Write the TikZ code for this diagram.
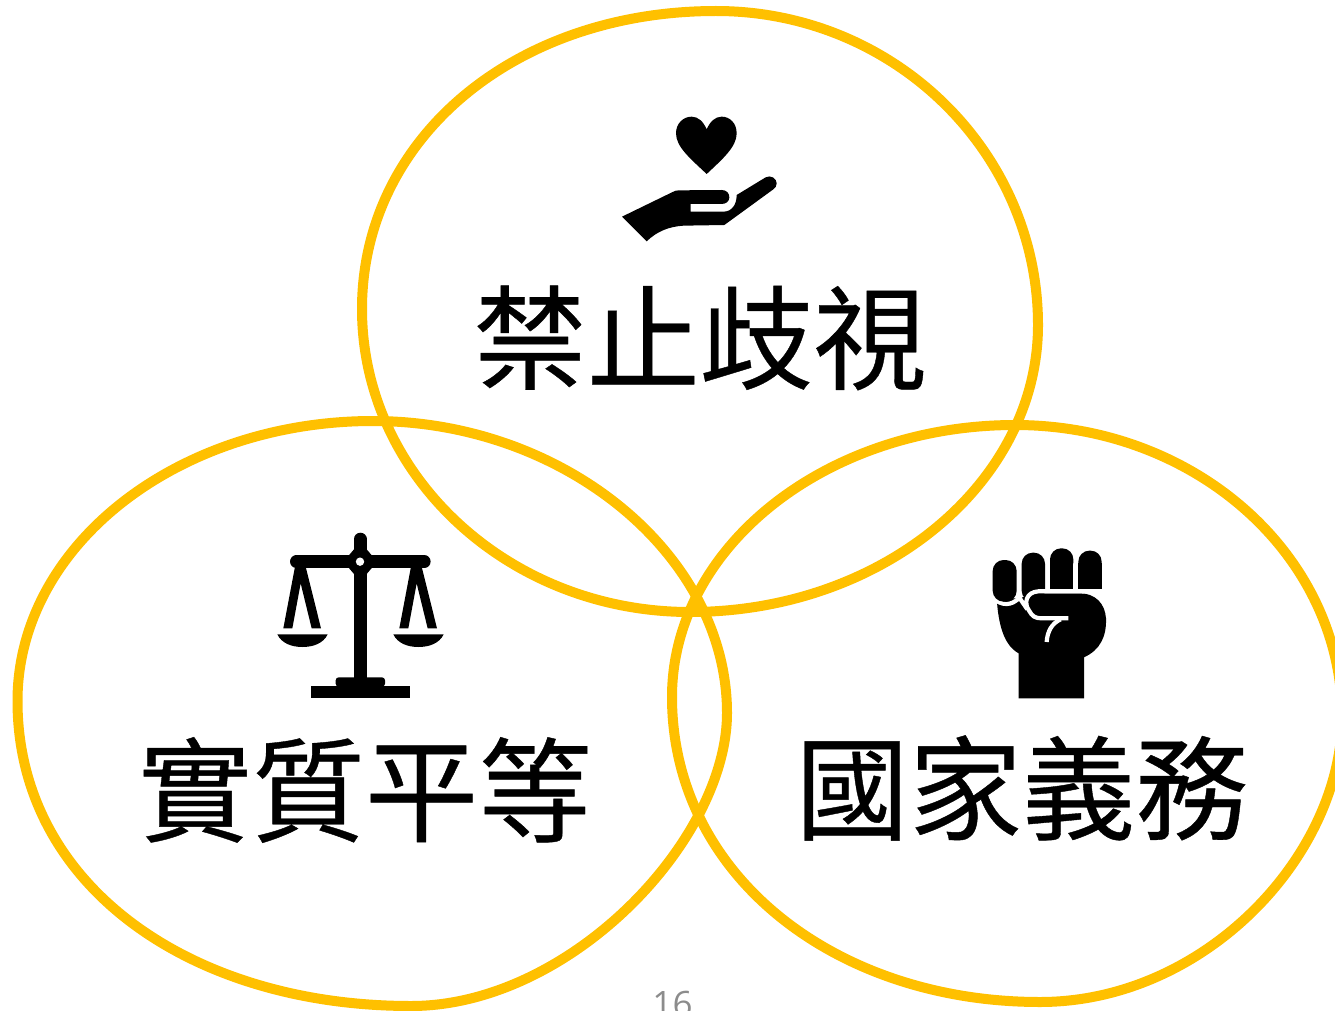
\documentclass[tikz,border=0pt]{standalone}
\usepackage{fontspec}
\newfontfamily\cjk[FakeBold=0.35]{Noto Sans CJK TC}
\newfontfamily\pagefont{Open Sans}
\definecolor{ringgold}{HTML}{FFC000}
\definecolor{pagegray}{HTML}{8C8C8C}
\tikzset{
  ring/.style={draw=ringgold,line width=10pt,line join=round},
  biglabel/.style={font=\cjk\fontsize{113.3}{113}\selectfont,inner sep=0pt,text=black},
  icon/.style={fill=black,draw=none},
  zoomA/.style={shift={(600,100)},x=0.33333pt,y=-0.33333pt},
  zoomB/.style={shift={(260,520)},x=0.33333pt,y=-0.33333pt},
  zoomC/.style={shift={(970,530)},x=0.33333pt,y=-0.33333pt},
  gap/.style={draw=white,line width=4.2pt}
}
\begin{document}
\begin{tikzpicture}[x=1pt,y=-1pt]
\useasboundingbox (0,0) rectangle (1335,1011);
\clip (0,0) rectangle (1335,1011);
% top ring
\draw[ring] (716,11)
  .. controls (514,11) and (362,139) .. (362,309)
  .. controls (362,476) and (509,612) .. (690,612)
  .. controls (882,612) and (1038,483) .. (1038,325)
  .. controls (1038,152) and (894,11) .. (716,11) -- cycle;
% left ring
\draw[ring] (373,421)
  .. controls (177,421) and (17.5,546) .. (17.5,701)
  .. controls (17.5,885) and (190,1006) .. (411,1006)
  .. controls (570,1006) and (727,840) .. (727,713)
  .. controls (727,555) and (564,421) .. (373,421) -- cycle;
% right ring
\draw[ring] (1015,425)
  .. controls (826,425) and (672,547) .. (672,697)
  .. controls (672,875) and (835,1002) .. (1040,1002)
  .. controls (1205,1002) and (1342,855) .. (1342,717)
  .. controls (1342,556) and (1196,425) .. (1015,425) -- cycle;
% heart and hand
\begin{scope}[zoomA]
\fill[icon] (320,222) .. controls (270,175) and (228,140) .. (228,100)
  .. controls (228,70) and (250,50) .. (275,50)
  .. controls (295,50) and (310,65) .. (320,88)
  .. controls (330,65) and (345,50) .. (365,50)
  .. controls (390,50) and (410,70) .. (410,100)
  .. controls (410,140) and (370,175) .. (320,222) -- cycle;
\fill[icon] (66,350) -- (218,276) .. controls (225,272) and (230,271) .. (238,271) -- (365,270)
  .. controls (380,270) and (388,280) .. (388,292)
  .. controls (388,304) and (378,312) .. (365,312)
  -- (272,312) -- (272,335) -- (370,335)
  .. controls (395,335) and (410,315) .. (410,285)
  -- (497,232) .. controls (512,224) and (530,235) .. (530,250)
  .. controls (530,258) and (526,264) .. (520,268)
  -- (373,375) -- (250,377) .. controls (205,380) and (170,395) .. (140,424) -- cycle;
\end{scope}
% scales
\begin{scope}[zoomB]
\draw[line width=12.6pt,line cap=round] (301,57) -- (301,110);
\fill[icon] (282,100) rectangle (320,475);
\draw[line width=12.6pt,line cap=round] (109,125) -- (493,125);
\fill[icon] (282,88) -- (320,88) -- (337,108) -- (337,142) -- (320,162) -- (282,162) -- (265,142) -- (265,108) -- cycle;
\fill[white] (300,125) circle [radius=4.2pt];
\fill[icon] (105,140) -- (70,325) -- (97,325) -- (122,190) -- (155,325) -- (183,325) -- (137,140) -- cycle;
\fill[icon] (453,140) -- (418,325) -- (445,325) -- (470,190) -- (503,325) -- (531,325) -- (485,140) -- cycle;
\fill[icon] (52,343) -- (203,343) .. controls (190,370) and (160,381) .. (127,381) .. controls (95,381) and (65,370) .. (52,343) -- cycle;
\fill[icon] (400,343) -- (551,343) .. controls (538,370) and (508,381) .. (475,381) .. controls (443,381) and (413,370) .. (400,343) -- cycle;
\fill[icon,rounded corners=3pt] (227,500) -- (227,472) -- (375,472) -- (375,500) -- cycle;
\fill[icon] (152,497) rectangle (450,535);
\end{scope}
% fist
\begin{scope}[zoomC]
\fill[icon] (80,205) .. controls (85,280) and (100,345) .. (146,370) -- (146,505) -- (342,505) -- (342,382)
  .. controls (390,360) and (410,320) .. (408,265)
  .. controls (405,220) and (375,190) .. (330,190) -- (190,190) -- (150,205) -- cycle;
\fill[icon,rounded corners=11pt] (155,215) -- (155,68) -- (225,68) -- (225,215) -- cycle;
\fill[icon] (240,90) rectangle (310,190);
\fill[icon,rounded corners=11pt] (240,130) -- (240,55) -- (310,55) -- (310,130) -- cycle;
\fill[icon] (325,100) rectangle (395,190);
\fill[icon,rounded corners=11pt] (325,130) -- (325,62) -- (395,62) -- (395,130) -- cycle;
\draw[gap] (400,184) -- (205,184) .. controls (168,186) and (160,220) .. (178,243)
  .. controls (186,258) and (195,265) .. (215,265) -- (295,265);
\draw[gap] (272,268) .. controls (245,280) and (232,305) .. (230,336);
\draw[gap] (70,205) .. controls (95,228) and (125,228) .. (148,203) -- (172,238);
\fill[icon,rounded corners=11pt] (68,215) -- (68,90) -- (140,90) -- (140,215) -- cycle;
\end{scope}
\node[biglabel] (top) at (700,338) {禁止歧視};
\node[biglabel] (left) at (365,790) {實質平等};
\node[biglabel] (right) at (1022,788) {國家義務};
\node[font=\pagefont\fontsize{35}{35}\selectfont,text=pagegray,inner sep=0pt] (pagenum) at (672.5,1004) {16};
\end{tikzpicture}
\end{document}
